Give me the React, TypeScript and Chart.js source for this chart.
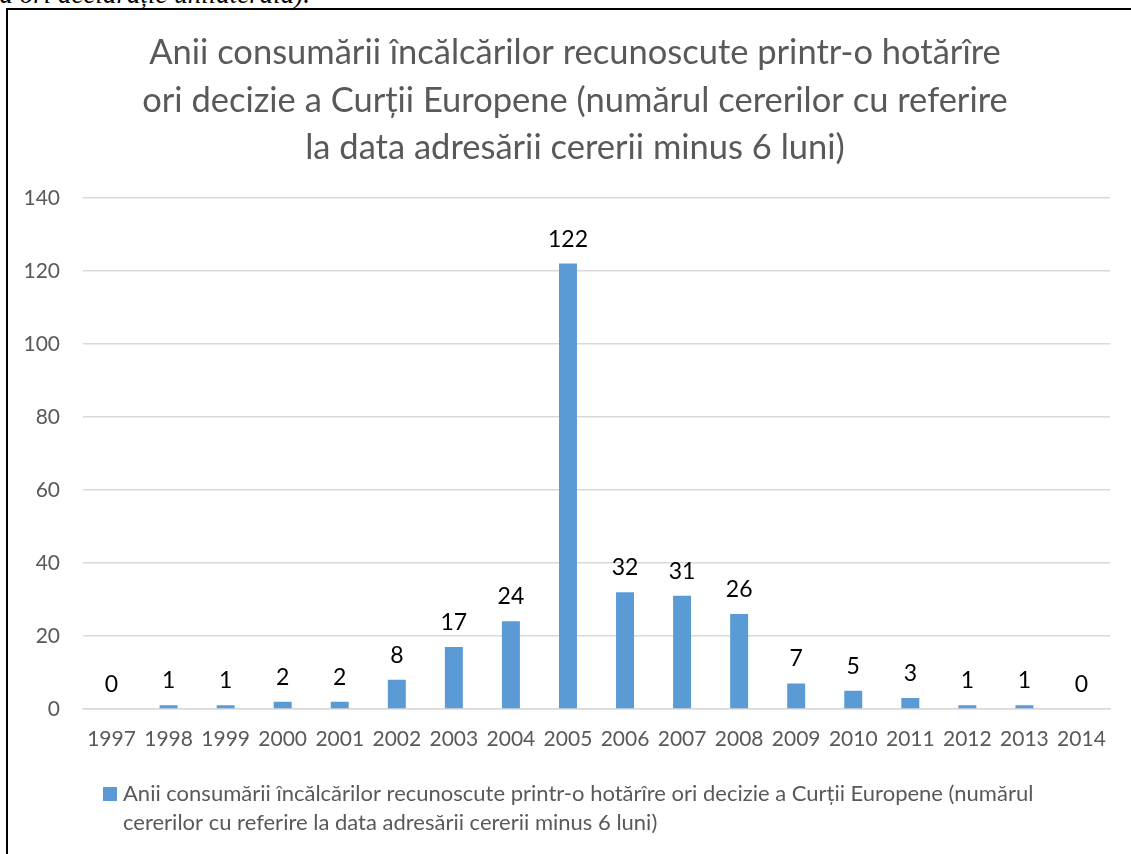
import React, { useEffect, useRef } from "react";
import { Chart, registerables } from "chart.js";

Chart.register(...registerables);

const years: string[] = [
  "1997", "1998", "1999", "2000", "2001", "2002", "2003", "2004", "2005",
  "2006", "2007", "2008", "2009", "2010", "2011", "2012", "2013", "2014",
];
const counts: number[] = [0, 1, 1, 2, 2, 8, 17, 24, 122, 32, 31, 26, 7, 5, 3, 1, 1, 0];
const titleLines: string[] = [
  "Anii consumării încălcărilor recunoscute printr-o hotărîre",
  "ori decizie a Curții Europene (numărul cererilor cu referire",
  "la data adresării cererii minus 6 luni)",
];
const seriesLabel =
  "Anii consumării încălcărilor recunoscute printr-o hotărîre ori decizie a Curții Europene (numărul cererilor cu referire la data adresării cererii minus 6 luni)";
const legendLines: string[] = [
  "Anii consumării încălcărilor recunoscute printr-o hotărîre ori decizie a Curții Europene (numărul",
  "cererilor cu referire la data adresării cererii minus 6 luni)",
];
const yMax = 140;
const yStep = 20;
const pageHeadText = "la ori declarație unilaterală).";

const FONT = "Lato, 'Open Sans', sans-serif";
const GREY = "#595959";
const BAR = "#5b9bd5";

export default function App() {
  const ref = useRef<HTMLCanvasElement | null>(null);

  useEffect(() => {
    document.body.style.margin = "0";
    const canvas = ref.current;
    if (!canvas) return;

    const titleCenterPlugin = {
      id: "titleCenter",
      afterLayout(chart: any) {
        const tb = chart.titleBlock;
        if (tb) {
          tb.left = 0;
          tb.right = chart.width + 10;
        }
      },
    };

    const labelPlugin = {
      id: "valueLabels",
      afterDatasetsDraw(chart: any) {
        const ctx = chart.ctx;
        const meta = chart.getDatasetMeta(0);
        ctx.save();
        ctx.fillStyle = "#000";
        ctx.font = `23px ${FONT}`;
        ctx.textAlign = "center";
        ctx.textBaseline = "alphabetic";
        meta.data.forEach((bar: any, i: number) => {
          const v = chart.data.datasets[0].data[i];
          ctx.fillText(String(v), bar.x, bar.y - 17);
        });
        ctx.restore();
      },
    };

    const legendPlugin = {
      id: "wrappedLegend",
      afterDraw(chart: any) {
        const ctx = chart.ctx;
        const ds = chart.data.datasets[0];
        ctx.save();
        ctx.fillStyle = ds.backgroundColor;
        ctx.fillRect(94, 777, 14, 14);
        ctx.fillStyle = GREY;
        ctx.font = `22px ${FONT}`;
        ctx.textAlign = "left";
        ctx.textBaseline = "alphabetic";
        legendLines.forEach((line, i) => {
          ctx.fillText(line, 114, 791 + i * 29);
        });
        ctx.restore();
      },
    };

    const chart = new Chart(canvas, {
      type: "bar",
      data: {
        labels: years,
        datasets: [
          {
            label: seriesLabel,
            data: counts,
            backgroundColor: BAR,
            categoryPercentage: 0.5,
            barPercentage: 0.63,
          },
        ],
      },
      options: {
        animation: false,
        responsive: false,
        maintainAspectRatio: false,
        layout: { padding: { left: 0, right: 21, top: 0, bottom: 100 } },
        plugins: {
          legend: { display: false },
          tooltip: { enabled: false },
          title: {
            display: true,
            text: titleLines,
            color: GREY,
            font: { family: FONT, size: 34.5, weight: "normal", lineHeight: 1.38 },
            padding: { top: 19, bottom: 26 },
          },
        },
        scales: {
          x: {
            grid: { display: false, drawTicks: false },
            border: { display: true, color: "#d9d9d9", width: 1.5 },
            ticks: {
              color: GREY,
              font: { family: FONT, size: 21 },
              padding: 18,
              maxRotation: 0,
              autoSkip: false,
            },
            afterFit: (s: any) => {
              s.height = 45;
            },
          },
          y: {
            min: 0,
            max: yMax,
            grid: { color: "#d9d9d9", lineWidth: 1.5, drawTicks: false },
            border: { display: false },
            ticks: {
              stepSize: yStep,
              color: GREY,
              font: { family: FONT, size: 21 },
              padding: 23,
            },
            afterFit: (s: any) => {
              s.width = 74;
            },
          },
        },
      },
      plugins: [titleCenterPlugin, labelPlugin, legendPlugin],
    });

    return () => chart.destroy();
  }, []);

  return (
    <div
      style={{
        position: "relative",
        width: 1131,
        height: 854,
        overflow: "hidden",
        background: "#fff",
      }}
    >
      <div
        style={{
          position: "absolute",
          left: -8,
          top: -19,
          fontFamily: "'Liberation Serif', 'Times New Roman', serif",
          fontStyle: "italic",
          fontSize: 27,
          lineHeight: "27px",
          whiteSpace: "nowrap",
          color: "#000",
        }}
      >
        {pageHeadText}
      </div>
      <div
        style={{
          position: "absolute",
          left: 6,
          top: 8,
          width: 1200,
          height: 900,
          borderLeft: "2px solid #000",
          borderTop: "2px solid #000",
        }}
      />
      <canvas
        ref={ref}
        width={1122}
        height={844}
        style={{ position: "absolute", left: 9, top: 10, width: 1122, height: 844 }}
      />
    </div>
  );
}
